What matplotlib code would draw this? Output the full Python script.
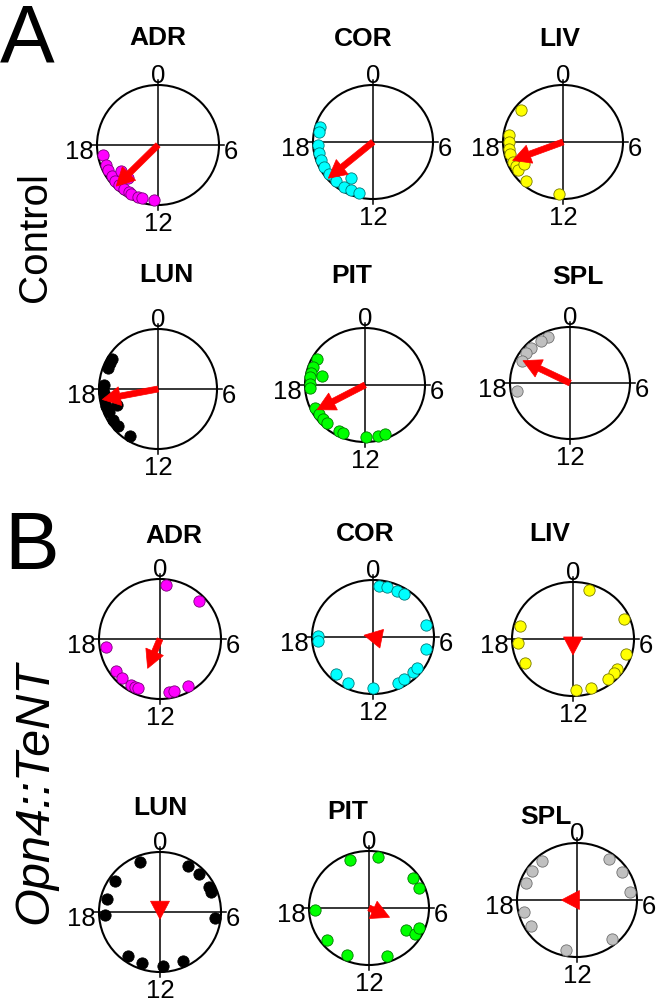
import numpy as np
import matplotlib
matplotlib.use("Agg")
import matplotlib.pyplot as plt
from matplotlib.patches import Ellipse, Polygon

plt.rcParams['font.family'] = ['Liberation Sans', 'DejaVu Sans']

# ---------------- data (hours of peak phase, 0-24; radial position) ----------------
tissues = ["ADR", "COR", "LIV", "LUN", "PIT", "SPL"]
colors = {"ADR": ("#FF00FF", "#7A007A"), "COR": ("#00FFFF", "#007A7A"),
          "LIV": ("#FFFF00", "#7A7A00"), "LUN": ("#000000", "#000000"),
          "PIT": ("#00FF00", "#007A00"), "SPL": ("#C0C0C0", "#707070")}

ctrl_ADR_h = [17.3, 16.6, 16.2, 15.7, 15.3, 14.9, 14.5, 14.1, 13.9, 13.4, 13.1, 12.3, 15.6, 14.8]
ctrl_ADR_r = [0.92] * 12 + [0.74, 0.73]
ctrl_COR_h = [19.1, 18.7, 17.8, 17.2, 16.7, 16.1, 15.5, 14.8, 14.1, 13.6, 13.0, 14.0]
ctrl_COR_r = [0.92] * 11 + [0.72]
ctrl_LIV_h = [20.6, 18.5, 18.0, 17.5, 17.1, 16.5, 16.1, 15.8, 15.95, 14.8, 12.3]
ctrl_LIV_r = [0.9] * 8 + [0.76, 0.92, 0.92]
ctrl_LUN_h = [20.2, 19.9, 19.5, 18.3, 17.7, 17.3, 16.8, 16.35, 15.7, 15.2, 16.6, 14.1]
ctrl_LUN_r = [0.92] * 10 + [0.74, 0.92]
ctrl_PIT_h = [20.0, 19.3, 18.9, 18.8, 18.6, 18.07, 17.8, 16.3, 15.75, 15.3, 14.9, 13.9, 13.55, 11.9, 11.1, 10.6]
ctrl_PIT_r = [0.92, 0.92, 0.92, 0.74] + [0.92] * 12
ctrl_SPL_h = [22.4, 21.8, 20.9, 20.4, 19.75, 17.4]
ctrl_SPL_r = [0.9] * 6

tent_ADR_h = [0.42, 3.03, 17.4, 15.6, 14.9, 14.1, 13.8, 13.6, 11.4, 11.05, 9.98]
tent_COR_h = [0.44, 1.0, 1.73, 2.25, 5.1, 6.9, 18.1, 17.7, 14.87, 13.8, 12.0, 10.2, 9.7, 8.87, 8.5]
tent_LIV_h = [1.1, 4.5, 19.0, 17.7, 16.1, 7.1, 8.4, 8.8, 9.4, 10.76, 11.8]
tent_LUN_h = [22.6, 20.3, 18.9, 17.8, 2.06, 3.0, 4.2, 4.55, 6.4, 14.4, 13.3, 11.8, 10.35]
tent_PIT_h = [22.6, 0.66, 3.6, 4.45, 17.87, 15.4, 13.6, 10.7, 8.1, 8.07, 7.56]
tent_PIT_r = [0.9] * 8 + [0.73, 0.9, 0.9]
tent_SPL_h = [21.3, 20.3, 19.3, 2.46, 3.8, 5.37, 17.1, 15.95, 12.8, 9.3]

# mean vector: (phase hour, length relative to circle radius)
ctrl_arrows = {"ADR": (15.0, 0.97), "COR": (15.3, 0.98), "LIV": (16.6, 0.9),
               "LUN": (17.3, 0.96), "PIT": (16.1, 0.91), "SPL": (19.8, 0.88)}
tent_arrows = {"ADR": (13.5, 0.53), "COR": (18.8, 0.15), "LIV": (12.0, 0.28),
               "LUN": (12.0, 0.12), "PIT": (7.7, 0.38), "SPL": (18.0, 0.26)}

hour_labels = ["0", "6", "12", "18"]

ctrl_h = {"ADR": ctrl_ADR_h, "COR": ctrl_COR_h, "LIV": ctrl_LIV_h,
          "LUN": ctrl_LUN_h, "PIT": ctrl_PIT_h, "SPL": ctrl_SPL_h}
ctrl_r = {"ADR": ctrl_ADR_r, "COR": ctrl_COR_r, "LIV": ctrl_LIV_r,
          "LUN": ctrl_LUN_r, "PIT": ctrl_PIT_r, "SPL": ctrl_SPL_r}
tent_h = {"ADR": tent_ADR_h, "COR": tent_COR_h, "LIV": tent_LIV_h,
          "LUN": tent_LUN_h, "PIT": tent_PIT_h, "SPL": tent_SPL_h}
tent_r = {"ADR": [0.9] * len(tent_ADR_h), "COR": [0.9] * len(tent_COR_h),
          "LIV": [0.9] * len(tent_LIV_h), "LUN": [0.9] * len(tent_LUN_h),
          "PIT": tent_PIT_r, "SPL": [0.9] * len(tent_SPL_h)}

# ---------------- layout (pixels) ----------------
W, H = 660, 1002
# panel: (cx, cy, rx, ry, title_x, title_y)
layout_ctrl = {"ADR": (158, 145, 61, 60, 158, 38), "COR": (373, 142, 60, 57, 363, 39),
               "LIV": (563, 142, 60, 57, 560, 39), "LUN": (158, 389, 59, 60, 166, 275),
               "PIT": (365, 385, 60, 57, 352, 276), "SPL": (570, 383, 60, 56, 578, 277)}
layout_tent = {"ADR": (160, 639, 61, 60, 174, 536), "COR": (373, 637, 61, 57, 365, 534),
               "LIV": (573, 639, 61, 57, 550, 534), "LUN": (160, 912, 61, 60, 160, 808),
               "PIT": (369, 908, 60, 57, 348, 812), "SPL": (577, 900, 60, 57, 546, 817)}

fig = plt.figure(figsize=(W / 100, H / 100), dpi=100)
L = 1.7


def panel(name, hours, radii, arrow, lay):
    cx, cy, rx, ry, tx, ty = lay
    ax = fig.add_axes([(cx - L * rx) / W, 1 - (cy + L * ry) / H, 2 * L * rx / W, 2 * L * ry / H])
    ax.set_xlim(-L, L)
    ax.set_ylim(-L, L)
    ax.axis("off")
    ax.add_patch(Ellipse((0, 0), 2, 2, fill=False, lw=1.5, ec="black", zorder=2))
    ext = 5
    ax.plot([0, 0], [-1 - ext / ry, 1 + ext / ry], color="black", lw=1.1, zorder=1)
    ax.plot([-1 - ext / rx, 1 + ext / rx], [0, 0], color="black", lw=1.1, zorder=1)
    # hour labels
    kw = dict(fontsize=18.5, clip_on=False)
    ax.text(0, 1 + 2 / ry, hour_labels[0], ha="center", va="baseline", **kw)
    ax.text(1 + 5 / rx, -14 / ry, hour_labels[1], ha="left", va="baseline", **kw)
    ax.text(0, -1 - 26 / ry, hour_labels[2], ha="center", va="baseline", **kw)
    ax.text(-1 - 3 / rx, -14 / ry, hour_labels[3], ha="right", va="baseline", **kw)
    # title
    ax.text((tx - cx) / rx, (cy - ty) / ry, name, ha="center", va="center",
            fontsize=19, fontweight="bold", clip_on=False)
    # points
    th = np.array(hours) / 24 * 2 * np.pi
    r = np.array(radii)
    fc, ec = colors[name]
    ax.scatter(r * np.sin(th), r * np.cos(th), s=66, c=fc, edgecolors=ec,
               linewidths=0.6, zorder=3)
    # arrow (built in pixel space, converted to data)
    ah, al = arrow
    t = ah / 24 * 2 * np.pi
    tip = np.array([al * rx * np.sin(t), al * ry * np.cos(t)])
    d = tip / np.linalg.norm(tip)
    n = np.array([-d[1], d[0]])
    hl, hw, sw = 18.0, 19.0, 6.0
    base = tip - hl * d
    if np.linalg.norm(tip) > hl:
        pts = [n * sw / 2, base + n * sw / 2, base + n * hw / 2, tip,
               base - n * hw / 2, base - n * sw / 2, -n * sw / 2]
    else:
        pts = [base + n * hw / 2, tip, base - n * hw / 2]
    pts = np.array(pts) / np.array([rx, ry])
    ax.add_patch(Polygon(pts, closed=True, fc="#FF0000", ec="#FF0000", lw=0.5, zorder=4))


for nm in tissues:
    panel(nm, ctrl_h[nm], ctrl_r[nm], ctrl_arrows[nm], layout_ctrl[nm])
    panel(nm, tent_h[nm], tent_r[nm], tent_arrows[nm], layout_tent[nm])

fig.text(0 / W, 1 - 61 / H, "A", fontsize=59, ha="left", va="baseline")
fig.text(4 / W, 1 - 569 / H, "B", fontsize=59, ha="left", va="baseline")
fig.text(35 / W, 1 - 237 / H, "Control", fontsize=29, rotation=90, ha="center", va="center")
fig.text(35 / W, 1 - 793 / H, "Opn4::TeNT", fontsize=35, rotation=90, ha="center",
         va="center", style="italic")

fig.savefig("out.png", dpi=100)
